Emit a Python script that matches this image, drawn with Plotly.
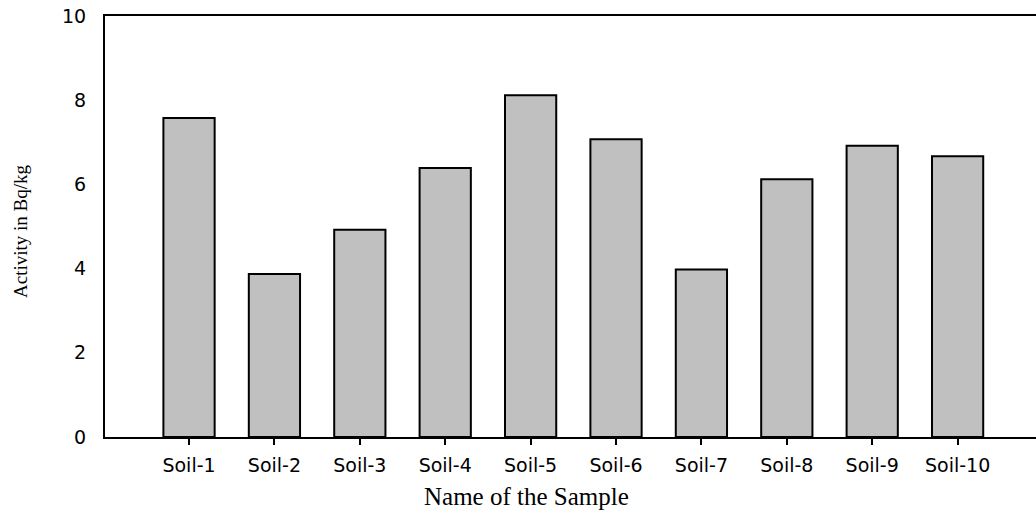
import plotly.graph_objects as go

# Sample names and measured activity (Bq/kg)
samples = ["Soil-1", "Soil-2", "Soil-3", "Soil-4", "Soil-5",
           "Soil-6", "Soil-7", "Soil-8", "Soil-9", "Soil-10"]
activity = [7.58, 3.87, 4.92, 6.39, 8.12, 7.07, 3.98, 6.12, 6.92, 6.67]
y_ticks = [0, 2, 4, 6, 8, 10]

positions = list(range(len(samples)))

fig = go.Figure(
    go.Bar(
        x=positions,
        y=activity,
        width=0.6,
        marker=dict(color="#c0c0c0", line=dict(color="black", width=2)),
        hoverinfo="x+y",
    )
)

tick_font = dict(family="DejaVu Sans, Arial, sans-serif", size=19, color="black")
title_font = dict(family="Liberation Serif, Times New Roman, serif", size=25, color="black")

fig.update_layout(
    width=1036,
    height=510,
    margin=dict(l=105, r=0, t=16, b=73),
    paper_bgcolor="white",
    plot_bgcolor="white",
    showlegend=False,
    xaxis=dict(
        range=[-0.984, 9.918],
        tickvals=positions,
        ticktext=samples,
        tickfont=tick_font,
        ticks="outside",
        ticklen=6,
        tickwidth=2,
        tickcolor="black",
        showline=True,
        linecolor="black",
        linewidth=2,
        mirror=True,
        showgrid=False,
        zeroline=False,
        ticklabelstandoff=4,
    ),
    yaxis=dict(
        range=[0, 10],
        tickvals=y_ticks,
        tickfont=tick_font,
        ticks="",
        showline=True,
        linecolor="black",
        linewidth=2,
        mirror=False,
        showgrid=False,
        zeroline=False,
        ticklabelstandoff=13,
    ),
    annotations=[
        dict(
            text="Name of the Sample",
            xref="paper", yref="paper",
            x=(526 - 105) / (1036 - 105), y=-(496 - 437) / (437 - 16),
            xanchor="center", yanchor="middle",
            showarrow=False, font=title_font,
        ),
        dict(
            text="Activity in Bq/kg",
            xref="paper", yref="paper",
            x=-(105 - 21) / (1036 - 105), y=(437 - 231) / (437 - 16),
            xanchor="center", yanchor="middle",
            textangle=-90,
            showarrow=False, font=dict(family="Liberation Serif, Times New Roman, serif", size=19, color="black"),
        ),
    ],
)

fig.write_html("out.html")
